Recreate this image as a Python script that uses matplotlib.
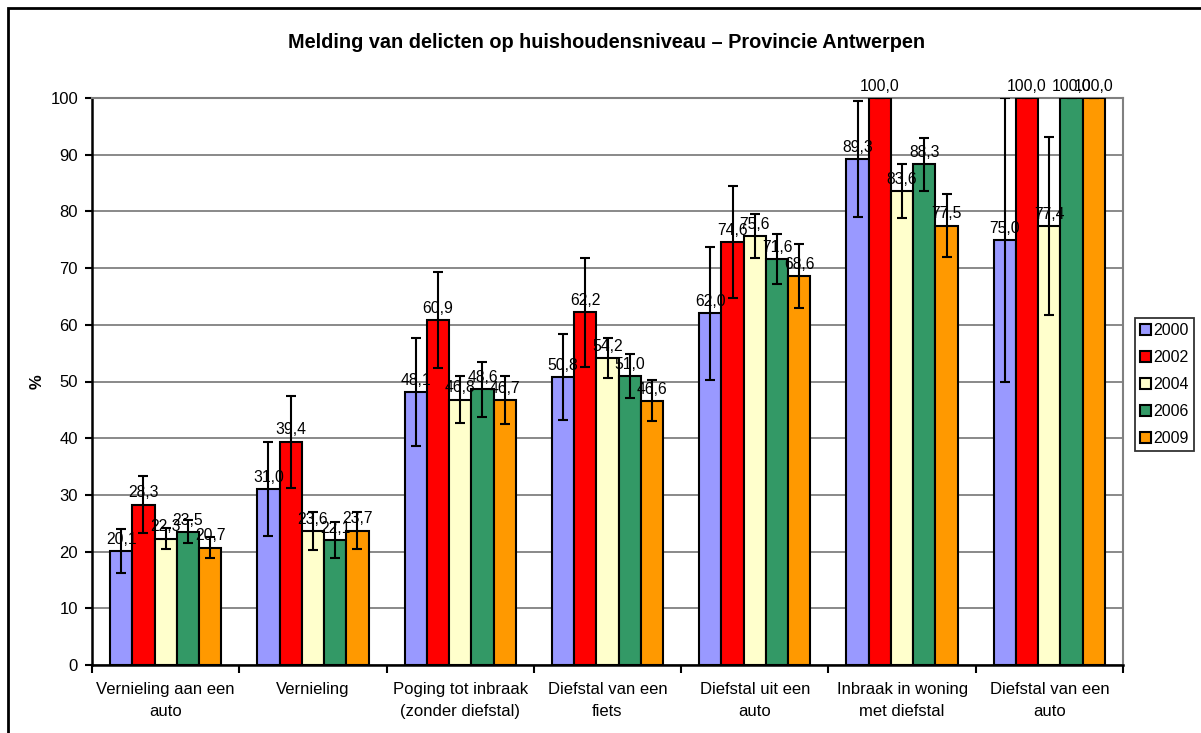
import numpy as np
import matplotlib.pyplot as plt
from matplotlib.patches import Rectangle

plt.rcParams['font.family'] = ['Liberation Sans', 'DejaVu Sans']

categories = ['Vernieling aan een\nauto', 'Vernieling', 'Poging tot inbraak\n(zonder diefstal)',
              'Diefstal van een\nfiets', 'Diefstal uit een\nauto', 'Inbraak in woning\nmet diefstal',
              'Diefstal van een\nauto']
years = ['2000', '2002', '2004', '2006', '2009']
colors = ['#9999FF', '#FF0000', '#FFFFCC', '#339966', '#FF9900']

v2000 = [20.1, 31.0, 48.1, 50.8, 62.0, 89.3, 75.0]
v2002 = [28.3, 39.4, 60.9, 62.2, 74.6, 100.0, 100.0]
v2004 = [22.3, 23.6, 46.8, 54.2, 75.6, 83.6, 77.4]
v2006 = [23.5, 22.1, 48.6, 51.0, 71.6, 88.3, 100.0]
v2009 = [20.7, 23.7, 46.7, 46.6, 68.6, 77.5, 100.0]

# half-width of the error bars
e2000 = [3.9, 8.3, 9.5, 7.6, 11.7, 10.2, 25.0]
e2002 = [5.0, 8.1, 8.5, 9.6, 9.9, 0.0, 0.0]
e2004 = [1.8, 3.3, 4.2, 3.5, 3.9, 4.8, 15.7]
e2006 = [2.0, 3.2, 4.8, 3.9, 4.4, 4.7, 0.0]
e2009 = [1.8, 3.2, 4.2, 3.6, 5.6, 5.6, 0.0]

values = [v2000, v2002, v2004, v2006, v2009]
errors = [e2000, e2002, e2004, e2006, e2009]

fig = plt.figure(figsize=(12.01, 7.33), dpi=100)
ax = fig.add_axes([92/1201, 1-665/733, (1123-92)/1201, (665-98)/733])

x = np.arange(len(categories))
w = 0.151
for i, (vals, errs) in enumerate(zip(values, errors)):
    pos = x + (i - 2) * w
    ax.bar(pos, vals, width=w, color=colors[i], edgecolor='black', linewidth=1.5,
           label=years[i], zorder=3)
    ax.errorbar(pos, vals, yerr=errs, fmt='none', ecolor='black', elinewidth=1.5,
                capsize=3.5, capthick=1.5, zorder=4)
    for p, v in zip(pos, vals):
        ax.annotate(('%.1f' % v).replace('.', ','), (p, v), xytext=(0, 3),
                    textcoords='offset points', ha='center', va='bottom',
                    fontsize=11.3, zorder=5, annotation_clip=False)

ax.set_xlim(-0.5, len(categories) - 0.5)
ax.set_ylim(0, 100)
ax.set_yticks(range(0, 101, 10))
ax.yaxis.grid(True, color='#808080', linewidth=1.3, zorder=0)
ax.set_axisbelow(True)

ax.set_xticks(x)
ax.set_xticklabels(categories, fontsize=12, linespacing=1.6)
ax.set_xticks(np.arange(-0.5, len(categories)), minor=True)
ax.tick_params(axis='x', which='major', length=0, pad=12)
ax.tick_params(axis='x', which='minor', length=6, width=1.5)
ax.tick_params(axis='y', length=5, width=1.5, labelsize=12, pad=5)

ax.spines['left'].set_linewidth(1.8)
ax.spines['bottom'].set_linewidth(1.8)
ax.spines['top'].set_color('#808080')
ax.spines['right'].set_color('#808080')
ax.spines['top'].set_linewidth(1.5)
ax.spines['right'].set_linewidth(1.5)

ax.set_ylabel('%', fontsize=12, fontweight='bold')
ax.yaxis.set_label_coords((45 - 92) / 1031, 0.5)

fig.text(0.505, 1-43/733, 'Melding van delicten op huishoudensniveau \u2013 Provincie Antwerpen',
         ha='center', va='center', fontsize=14.3, fontweight='bold')

leg = ax.legend(loc='upper left', bbox_to_anchor=(1135/1201, 1-318/733),
                bbox_transform=fig.transFigure, frameon=True, fancybox=False,
                edgecolor='black', fontsize=11.5, handlelength=0.7, handleheight=0.7,
                handletextpad=0.15, labelspacing=0.75, borderpad=0.3, borderaxespad=0)
leg.get_frame().set_linewidth(1.3)

fig.patches.append(Rectangle((8/1201, -0.1), 1.2, 1.1 - 8/733, transform=fig.transFigure,
                             fill=False, edgecolor='black', linewidth=2))

fig.savefig('out.png', dpi=100)
